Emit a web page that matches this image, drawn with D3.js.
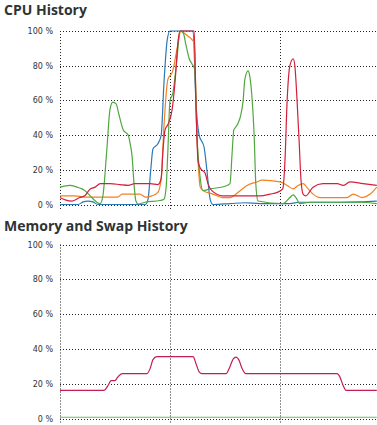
<!DOCTYPE html>
<html>
<head>
<meta charset="utf-8">
<script src="https://cdn.jsdelivr.net/npm/d3@7"></script>
<style>
  html, body { margin: 0; padding: 0; background: #fff; }
  svg { display: block; }
</style>
</head>
<body>
<svg id="chart" width="377" height="425"></svg>
<script>
'use strict';

/* ── data (time in seconds, value in %) ─────────── */
const yTicks = [0, 20, 40, 60, 80, 100];
const xTicks = [0, 20, 40, 60];

const cpuBlue = [
  [0,0],[3.3,0],[4.2,1.5],[5.1,2],[6.0,1.5],[6.9,0],[15.5,0],[16.0,3],[16.5,20],[16.9,32],
  [17.8,35],[18.4,40],[18.9,70],[19.5,95],[20.0,100],[24.2,100],[24.7,60],[25.3,40],[26.2,33],
  [26.7,20],[27.3,3],[27.8,0],[30.9,0.5],[33.6,1],[36.4,0.5],[41.8,0.5],[43.6,1.3],[50.9,1.3],
  [54.5,1.5],[57.6,2]
];
const cpuOrange = [
  [0,5],[2.7,5],[4.5,4.3],[10.5,4.3],[11.3,6],[14.5,6],[15.5,4.3],[16.7,5],[17.8,7],[18.4,15],
  [18.9,45],[19.6,72],[20.5,77],[21.3,90],[22.0,100],[22.5,99],[23.3,97],[24.0,95],[24.4,93],
  [24.9,40],[25.5,10],[26.0,8],[27.8,6],[29.6,4],[30.9,4],[32.4,7],[34.0,11],[35.8,13],[36.7,14],
  [40.0,13],[41.3,11],[42.4,9],[43.3,11],[44.2,12],[45.1,9],[46.0,6],[47.3,4],[52.2,4],[53.3,6],
  [54.9,4],[56.4,6],[57.6,10]
];
const cpuGreen = [
  [0,10],[1.8,11],[3.1,10],[4.0,9],[4.5,8],[5.5,5],[6.7,1.3],[7.3,0.5],[7.8,5],[8.5,31],[9.1,55],
  [9.6,59],[10.2,58],[10.7,52],[11.5,43],[12.4,40],[12.7,36],[13.1,28],[13.5,10],[13.8,2],[14.2,0.3],
  [15.5,1.3],[18.2,2.3],[18.9,3],[19.3,10],[19.6,30],[20.0,60],[20.5,64],[21.3,85],[21.8,100],
  [22.4,99],[22.9,92],[23.5,84],[24.0,81],[24.5,78],[24.9,40],[25.5,15],[26.0,8],[27.3,9],[30.0,10.5],
  [30.9,12],[31.3,30],[31.6,43],[31.8,44],[32.4,47],[32.9,52],[33.3,60],[33.6,72],[34.2,77],[34.5,74],
  [34.9,62],[35.3,40],[35.6,12],[36.0,2],[40.5,0.5],[41.8,4],[42.4,5.5],[42.9,4],[43.6,0.5],[45.5,1.3],
  [54.5,1.3],[57.6,0.5]
];
const cpuRed = [
  [0,4],[1.1,2.5],[2.2,2],[3.6,4],[4.5,5],[5.5,9],[6.4,10],[7.3,12],[9.1,12],[10.9,11.5],[12.4,11],
  [13.6,12],[16.4,12],[17.8,11.5],[18.4,15],[18.7,30],[19.1,43],[19.6,46],[20.4,55],[20.9,70],
  [21.5,95],[21.8,100],[24.4,100],[24.7,60],[25.1,25],[25.5,21],[26.4,18],[26.9,12],[27.6,8],
  [29.6,5],[34.0,5],[36.4,5],[38.2,6],[39.5,7],[40.5,9],[40.9,25],[41.3,60],[41.8,80],[42.4,84],
  [42.7,80],[43.1,60],[43.5,35],[43.8,15],[44.2,6],[44.7,5],[46.0,10],[47.8,12],[50.4,12],[51.5,11],
  [52.7,13],[55.1,12],[57.6,11]
];

const memUsed = [
  [0,16.4],[8.0,16.4],[8.7,19],[9.3,22],[10.0,22],[10.5,24],[11.3,26],[15.8,26],[16.4,29],[16.9,34],
  [17.6,35.7],[24.2,35.7],[24.7,32],[25.3,27],[25.8,26],[30.2,26],[30.9,30],[31.5,34.5],[32.0,35.5],
  [32.5,34],[33.1,29],[33.8,26],[50.4,26],[50.9,24],[51.5,19],[52.0,16.4],[57.6,16.4]
];
const swapUsed = [[0,1],[20,1],[40,1],[57.6,1]];

const cpuSeries = [
  { values: cpuBlue,   color: '#2b78b8' },
  { values: cpuOrange, color: '#f5801e' },
  { values: cpuGreen,  color: '#4fa83f' },
  { values: cpuRed,    color: '#d41f3c' },
];
const memSeries = [
  { values: swapUsed, color: '#6cbd5f' },
  { values: memUsed,  color: '#c21d59' },
];

/* ── layout ──────────────────────────────────────── */
const svg = d3.select('#chart');
const x = d3.scaleLinear().domain([0, 60]).range([60, 390]);

function drawPanel(title, titleY, yTop, yBottom, series) {
  const y = d3.scaleLinear().domain([0, 100]).range([yBottom, yTop]);
  const g = svg.append('g');

  g.append('text')
    .attr('x', 4).attr('y', titleY)
    .attr('font-family', '"Open Sans", sans-serif')
    .attr('font-size', '14px')
    .attr('font-weight', '700')
    .attr('fill', '#2e3436')
    .text(title);

  // horizontal grid
  g.selectAll('line.h').data(yTicks).join('line')
    .attr('x1', x(0)).attr('x2', 377)
    .attr('y1', d => Math.round(y(d)) + 0.5).attr('y2', d => Math.round(y(d)) + 0.5)
    .attr('stroke', '#222').attr('stroke-width', 1)
    .attr('stroke-dasharray', '1,2');

  // vertical grid
  g.selectAll('line.v').data(xTicks).join('line')
    .attr('x1', d => Math.round(x(d)) + 0.5).attr('x2', d => Math.round(x(d)) + 0.5)
    .attr('y1', y(100)).attr('y2', yBottom + 5)
    .attr('stroke', '#222').attr('stroke-width', 1)
    .attr('stroke-dasharray', '1,2');

  // tick labels
  g.selectAll('text.tick').data(yTicks).join('text')
    .attr('x', 53).attr('y', d => y(d) + 3)
    .attr('text-anchor', 'end')
    .attr('font-family', '"DejaVu Sans", sans-serif')
    .attr('font-size', '8px')
    .attr('fill', '#333')
    .text(d => d + ' %');

  const line = d3.line()
    .x(d => x(d[0]))
    .y(d => y(d[1]))
    .curve(d3.curveMonotoneX);

  g.selectAll('path.s').data(series).join('path')
    .attr('d', d => line(d.values))
    .attr('fill', 'none')
    .attr('stroke', d => d.color)
    .attr('stroke-width', 1.2)
    .attr('stroke-linejoin', 'round');
}

drawPanel('CPU History', 15, 31, 204.5, cpuSeries);
drawPanel('Memory and Swap History', 231, 244.5, 419, memSeries);
</script>
</body>
</html>
